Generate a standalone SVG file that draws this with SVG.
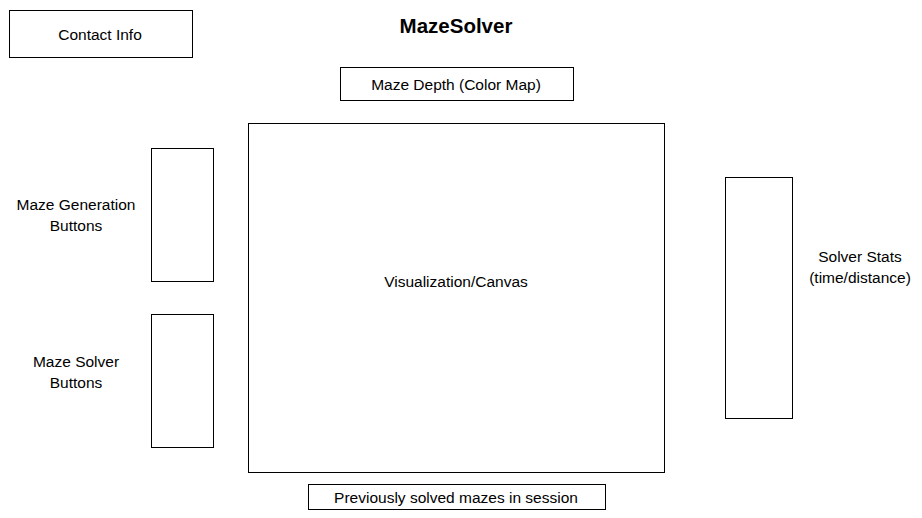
<svg xmlns="http://www.w3.org/2000/svg" width="922" height="518" viewBox="0 0 922 518">
<style>
.box{fill:#fff;stroke:#000;stroke-width:1}
.t{font-family:"Liberation Sans",Arial,sans-serif;font-size:15.5px;fill:#000;text-anchor:middle}
.title{font-family:"Liberation Sans",Arial,sans-serif;font-size:20.5px;font-weight:bold;fill:#000;text-anchor:middle}
</style>
<rect width="922" height="518" fill="#fff"/>
<g id="title"><text class="title" x="456" y="33">MazeSolver</text></g>
<g id="contact"><rect class="box" x="9.5" y="10.5" width="183" height="47"/><text class="t" x="100" y="40">Contact Info</text></g>
<g id="depth"><rect class="box" x="340.5" y="67.5" width="233" height="33"/><text class="t" x="456" y="90">Maze Depth (Color Map)</text></g>
<g id="canvas"><rect class="box" x="248.5" y="123.5" width="416" height="349"/><text class="t" x="456" y="287">Visualization/Canvas</text></g>
<g id="previous"><rect class="box" x="308.5" y="484.5" width="297" height="25"/><text class="t" x="456" y="503">Previously solved mazes in session</text></g>
<g id="gen"><rect class="box" x="151.5" y="148.5" width="62" height="133"/><text class="t" x="76" y="210">Maze Generation</text><text class="t" x="76" y="231">Buttons</text></g>
<g id="solver"><rect class="box" x="151.5" y="314.5" width="62" height="133"/><text class="t" x="76" y="367">Maze Solver</text><text class="t" x="76" y="388">Buttons</text></g>
<g id="stats"><rect class="box" x="725.5" y="177.5" width="67" height="241"/><text class="t" x="860" y="262">Solver Stats</text><text class="t" x="860" y="283">(time/distance)</text></g>
<g id="connectors"></g>
</svg>
